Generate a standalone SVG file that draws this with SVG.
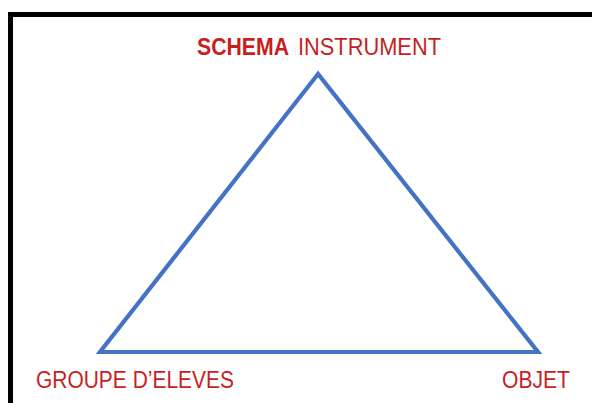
<svg xmlns="http://www.w3.org/2000/svg" width="592" height="403" viewBox="0 0 592 403">
<style>
.lbl{font-family:"Liberation Sans",Arial,sans-serif;font-size:23px;fill:#C81E1E}
.b{font-weight:bold}
.edge{fill:none;stroke:#4472C4;stroke-width:4.2;stroke-linejoin:miter}
</style>
<rect width="592" height="403" fill="#fff"/>
<g id="frame">
<path d="M10.5,403 V14.5 H592" fill="none" stroke="#000" stroke-width="5"/>
</g>
<g id="connectors">
<polygon class="edge" points="318,74 100,352 538,352"/>
</g>
<g id="node-schema">
<text class="lbl b" x="197" y="55" textLength="92" lengthAdjust="spacingAndGlyphs">SCHEMA</text>
<text class="lbl" x="298" y="55" textLength="143" lengthAdjust="spacingAndGlyphs">INSTRUMENT</text>
</g>
<g id="node-groupe">
<text class="lbl" x="36" y="388" textLength="198" lengthAdjust="spacingAndGlyphs">GROUPE D’ELEVES</text>
</g>
<g id="node-objet">
<text class="lbl" x="502" y="388" textLength="68" lengthAdjust="spacingAndGlyphs">OBJET</text>
</g>
</svg>
